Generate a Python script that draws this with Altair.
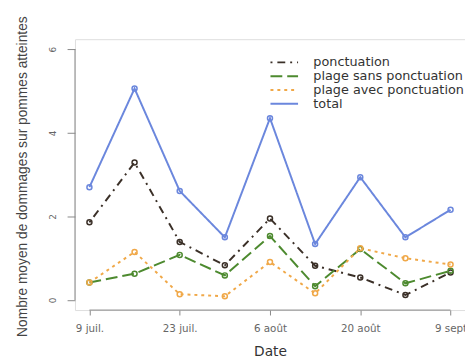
import altair as alt
import pandas as pd

# ---- data ----
dates = ["9 juil.", "16 juil.", "23 juil.", "30 juil.", "6 août", "13 août", "20 août", "27 août", "9 sept"]
tick_index = [0, 2, 4, 6, 8]
tick_labels = ["9 juil.", "23 juil.", "6 août", "20 août", "9 sept"]
y_ticks = [0, 2, 4, 6]

series_names = ["ponctuation", "plage sans ponctuation", "plage avec ponctuation", "total"]
ponctuation = [1.86, 3.29, 1.39, 0.83, 1.95, 0.82, 0.54, 0.12, 0.66]
plage_sans = [0.42, 0.63, 1.08, 0.59, 1.53, 0.33, 1.22, 0.40, 0.70]
plage_avec = [0.42, 1.15, 0.14, 0.09, 0.91, 0.16, 1.24, 1.00, 0.85]
total = [2.70, 5.06, 2.61, 1.50, 4.35, 1.34, 2.94, 1.50, 2.16]

colors = ["#3b3028", "#4d8a2f", "#f0a848", "#6b87dd"]
dashes = [[2, 5, 8, 5], [12, 5], [3, 4], [1, 0]]

rows = []
for name, vals in zip(series_names, [ponctuation, plage_sans, plage_avec, total]):
    for i, v in enumerate(vals):
        rows.append({"idx": i, "date": dates[i], "serie": name, "valeur": v})
df = pd.DataFrame(rows)

label_js = "[" + ",".join("'" + t + "'" for t in tick_labels) + "]"

FONT = "DejaVu Sans"

x_scale = alt.Scale(domain=[-0.32, 8.32], nice=False, zero=False)
y_scale = alt.Scale(domain=[-0.24, 6.24], nice=False, zero=False)

x_enc = alt.X(
    "idx:Q", scale=x_scale,
    axis=alt.Axis(
        values=tick_index, labelExpr=label_js + "[datum.value/2]",
        domain=False, grid=False, tickSize=5, tickColor="#888", tickWidth=1,
        labelFont=FONT, labelFontSize=10.5, labelColor="#666", labelPadding=9,
        title="Date", titleFont=FONT, titleFontSize=14, titleFontWeight="normal",
        titleColor="#333", titlePadding=11,
    ),
)
y_enc = alt.Y(
    "valeur:Q", scale=y_scale,
    axis=alt.Axis(
        values=y_ticks, domain=False, grid=False, tickSize=8, tickColor="#888",
        tickWidth=1, labelAngle=-90, labelFont=FONT, labelFontSize=9,
        labelColor="#666", labelPadding=10,
        title="Nombre moyen de dommages sur pommes atteintes",
        titleFont="Liberation Sans", titleFontSize=14, titleFontWeight="normal",
        titleColor="#444", titleX=-46, titleY=139,
    ),
)

legend_def = alt.Legend(
    title=None, orient="none", legendX=206, legendY=17, padding=0,
    symbolType="M-4,0L4,0", symbolSize=49, symbolStrokeWidth=2,
    labelFont=FONT, labelFontSize=13, labelColor="#333",
    labelOffset=23, rowPadding=-1,
)

color_enc = alt.Color("serie:N", scale=alt.Scale(domain=series_names, range=colors), legend=legend_def)
dash_enc = alt.StrokeDash("serie:N", scale=alt.Scale(domain=series_names, range=dashes), legend=legend_def)

base = alt.Chart(df)

lines = base.mark_line(strokeWidth=2).encode(
    x=x_enc, y=y_enc, color=color_enc, strokeDash=dash_enc,
    order="idx:Q", detail="serie:N",
)

points = base.mark_point(filled=False, size=26, strokeWidth=1.5, opacity=1).encode(
    x=alt.X("idx:Q", scale=x_scale),
    y=alt.Y("valeur:Q", scale=y_scale),
    color=alt.Color("serie:N", scale=alt.Scale(domain=series_names, range=colors), legend=None),
)

y_axis_line = alt.Chart(pd.DataFrame({"a": [0]})).mark_rule(color="#888", strokeWidth=1).encode(
    x=alt.value(0), y=alt.datum(y_ticks[0]), y2=alt.datum(y_ticks[-1]),
)
x_axis_line = alt.Chart(pd.DataFrame({"a": [0]})).mark_rule(color="#888", strokeWidth=1).encode(
    y=alt.value(275), x=alt.datum(tick_index[0]), x2=alt.datum(tick_index[-1]),
)

chart = alt.layer(y_axis_line, x_axis_line, lines, points).properties(
    width=396, height=275,
    autosize=alt.AutoSizeParams(type="none"),
    padding={"left": 68, "top": 29, "right": 0, "bottom": 48},
).configure_view(stroke=None).configure(background="white")

chart.save("out.html", embed_options={"renderer": "svg", "actions": False})
